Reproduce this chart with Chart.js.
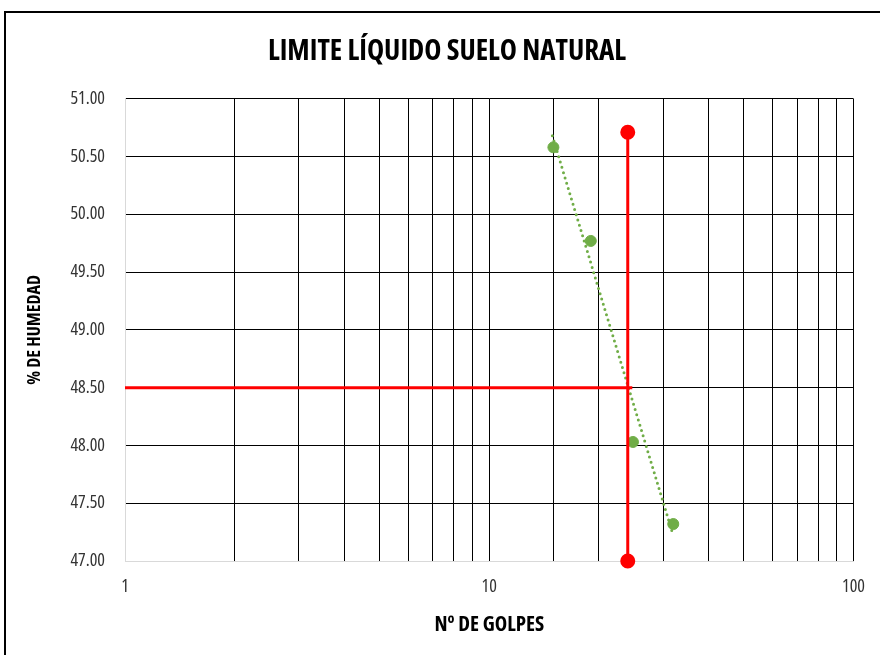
<!DOCTYPE html>
<html>
<head>
<meta charset="utf-8">
<script src="https://cdn.jsdelivr.net/npm/chart.js@4.4.1/dist/chart.umd.min.js"></script>
<style>
body{margin:0;background:#fff;}
#wrap{position:relative;width:880px;height:655px;}
#marco{position:absolute;left:4px;top:11px;width:900px;height:700px;border:2px solid #000;box-sizing:border-box;}
canvas{position:absolute;left:0;top:0;}
</style>
</head>
<body>
<div id="wrap">
<div id="marco"></div>
<canvas id="myChart" width="880" height="655"></canvas>
</div>
<script>
// datos
var golpes = [15, 19, 24.8, 32];
var humedad = [50.58, 49.77, 48.03, 47.32];
var tendX = [14.9, 32];
var tendY = [50.68, 47.22];
var limX = [24, 24];
var limY = [47, 50.71];
var horX = [1, 24.7];
var horY = [48.5, 48.5];
var etiquetasX = [1, 10, 100];

var fuente = "'Open Sans', 'Roboto Condensed', sans-serif";
var verde = "#70AD47";
var rojo = "#FF0000";

function pares(xs, ys){
    return xs.map((x, i) => ({x: x, y: ys[i]}));
}

const data = {
    datasets: [
    {
        label: "Vertical",
        data: pares(limX, limY),
        showLine: true,
        borderColor: rojo,
        backgroundColor: rojo,
        borderWidth: 3,
        pointRadius: 6,
        pointHoverRadius: 6,
        clip: false
    },
    {
        label: "Horizontal",
        data: pares(horX, horY),
        showLine: true,
        borderColor: rojo,
        borderWidth: 3,
        pointRadius: 0
    },
    {
        label: "Tendencia",
        data: pares(tendX, tendY),
        showLine: true,
        borderColor: verde,
        borderWidth: 3,
        borderDash: [0, 5.5],
        borderCapStyle: "round",
        pointRadius: 0
    },
    {
        label: "Puntos",
        data: pares(golpes, humedad),
        showLine: false,
        backgroundColor: verde,
        borderColor: verde,
        pointRadius: 5.5,
        pointHoverRadius: 5.5,
        clip: false
    }]
};

const config = {
    type: "scatter",
    data: data,
    options: {
        responsive: false,
        animation: false,
        layout: {
            padding: {left: 36, top: 34, right: 22, bottom: 0}
        },
        plugins: {
            legend: {display: false},
            tooltip: {enabled: false},
            title: {
                display: true,
                text: "LIMITE LÍQUIDO SUELO NATURAL",
                color: "#000",
                // "bold condensed" -> ancho estrecho de Open Sans
                font: {family: fuente, size: 29, weight: "bold condensed"},
                padding: {top: 0, bottom: 30}
            }
        },
        scales: {
            x: {
                type: "logarithmic",
                min: 1,
                max: 100,
                afterFit: s => { s.height = 94; },
                border: {color: "#d9d9d9", width: 1},
                grid: {
                    drawTicks: false,
                    color: c => (c.tick && c.tick.value === 1) ? "rgba(0,0,0,0)" : "#000",
                    lineWidth: 1
                },
                ticks: {
                    autoSkip: false,
                    maxRotation: 0,
                    padding: 15,
                    color: "#333",
                    font: {family: fuente, size: 18, weight: "condensed"},
                    callback: v => etiquetasX.includes(v) ? String(v) : ""
                },
                title: {
                    display: true,
                    text: "Nº DE GOLPES",
                    color: "#000",
                    font: {family: fuente, size: 21, weight: "bold condensed"},
                    padding: {top: 4, bottom: 17}
                }
            },
            y: {
                min: 47,
                max: 51,
                afterFit: s => { s.width = 89; },
                border: {color: "#d9d9d9", width: 1},
                grid: {
                    drawTicks: false,
                    color: c => (c.tick && c.tick.value === 47) ? "rgba(0,0,0,0)" : "#000",
                    lineWidth: 1
                },
                ticks: {
                    stepSize: 0.5,
                    padding: 20,
                    color: "#333",
                    font: {family: fuente, size: 18, weight: "condensed"},
                    callback: v => v.toFixed(2)
                },
                title: {
                    display: true,
                    text: "% DE HUMEDAD",
                    color: "#000",
                    font: {family: fuente, size: 18, weight: "bold condensed"},
                    padding: {top: -12, bottom: 4}
                }
            }
        }
    }
};

var mychart = new Chart(document.getElementById("myChart").getContext("2d"), config);
</script>
</body>
</html>
